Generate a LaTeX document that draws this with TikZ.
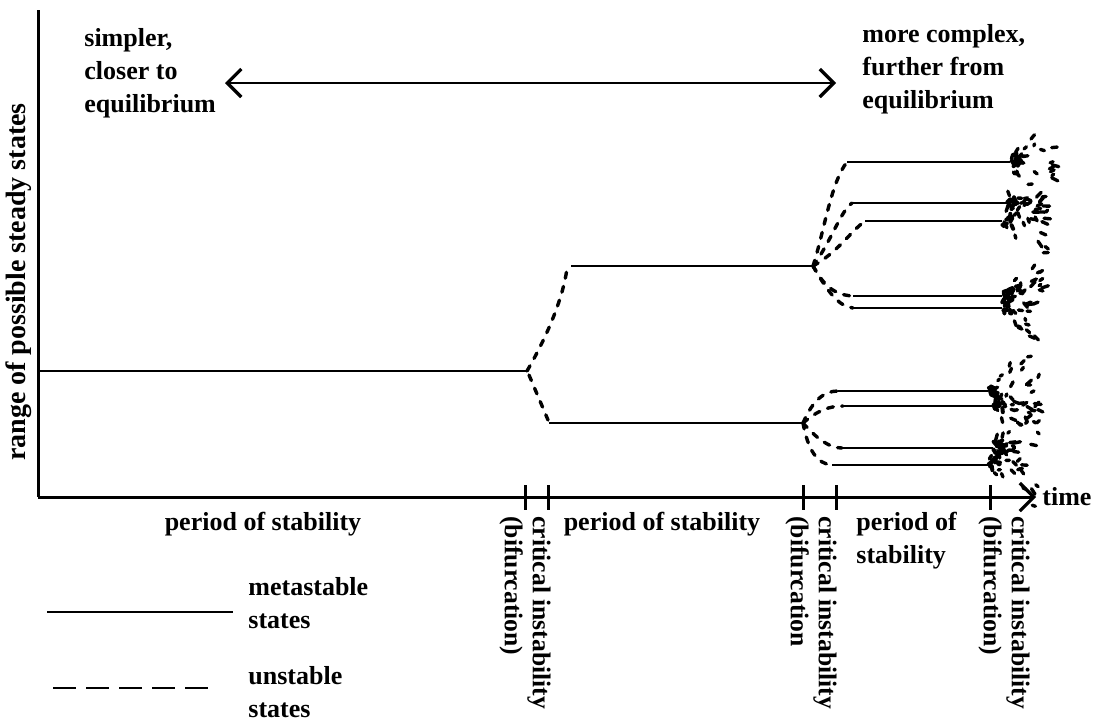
\documentclass[tikz,border=0pt]{standalone}
\usepackage{fontspec}
\setmainfont{Liberation Serif}
\usetikzlibrary{arrows.meta}
\begin{document}
\begin{tikzpicture}[x=0.5pt,y=-0.5pt,
  txt/.style={font=\fontsize{13}{16.5}\selectfont\bfseries, inner sep=0pt, align=left},
  sidetxt/.style={font=\fontsize{12.8}{14}\selectfont\bfseries, inner sep=0pt, align=left, rotate=-90, anchor=north west},
  axisline/.style={line width=1.5pt},
  tickmark/.style={line width=1.5pt},
  metastable/.style={line width=1pt},
  unstable/.style={line width=1.7pt, line cap=round, dash pattern=on 3pt off 4.2pt},
  spark/.style={line width=1.7pt, line cap=round},
  chev/.tip={Straight Barb[length=7pt, width=14pt, line width=1.6pt]}]
\useasboundingbox (0,0) rectangle (1095,724);

% ---- axes ----
\coordinate (o) at (38,497);
\coordinate (ytop) at (38,10);
\coordinate (xend) at (1036,497);
\draw[axisline] (ytop) -- (o);
\draw[axisline, -chev] (o) -- (xend);
\node[txt, anchor=base west] (time) at (1042,505) {time};
\node[txt, font=\fontsize{14}{16}\selectfont\bfseries, rotate=90] (ylab) at (19,282) {range of possible steady states};

% ---- ticks ----
\foreach \tx/\nm in {525/t1, 548/t2, 803/t3, 836/t4, 990/t5}{
  \coordinate (\nm a) at (\tx,485);
  \coordinate (\nm b) at (\tx,510);
  \draw[tickmark] (\nm a) -- (\nm b);
}

% ---- complexity arrow and its captions ----
\coordinate (al) at (225,83);
\coordinate (ar) at (836,83);
\draw[line width=0.9pt, chev-chev] (al) -- (ar);
\node[txt, anchor=north west] (simple) at (84,28) {simpler,\\closer to\\equilibrium};
\node[txt, anchor=north west] (complex) at (862,24) {more complex,\\further from\\equilibrium};

% ---- first period and bifurcation ----
\coordinate (s0) at (38,371);
\coordinate (b1) at (527,371);
\coordinate (u1s) at (571,266);
\coordinate (u1e) at (813,266);
\coordinate (l1s) at (549,423);
\coordinate (l1e) at (803,423);
\draw[metastable] (s0) -- (b1);
\draw[unstable] (b1) .. controls (545,340) and (563,300) .. (567,268);
\draw[unstable] (529,375) -- (548,420);
\draw[metastable] (u1s) -- (u1e);
\draw[metastable] (l1s) -- (l1e);

% ---- branches after the second critical instability ----
\foreach \nm/\xs/\ys/\xe in {ua/847/162/1010, ub/852/203/1007, uc/865/221/1002, ud/853/296/1002, ue/853/308/1002,
                             la/838/391/988, lb/843/406/993, lc/842/448/993, ld/832/465/988}{
  \coordinate (\nm s) at (\xs,\ys);
  \coordinate (\nm e) at (\xe,\ys);
  \draw[metastable] (\nm s) -- (\nm e);
}
\draw[unstable] (u1e) .. controls (824,232) and (831,182) .. (uas);
\draw[unstable] (u1e) .. controls (832,240) and (840,212) .. (ubs);
\draw[unstable] (u1e) .. controls (838,252) and (850,232) .. (ucs);
\draw[unstable] (u1e) .. controls (823,284) and (833,295) .. (uds);
\draw[unstable] (u1e) .. controls (828,292) and (838,306) .. (ues);

\draw[unstable] (l1e) .. controls (813,400) and (824,391) .. (las);
\draw[unstable] (l1e) .. controls (818,410) and (830,406) .. (lbs);
\draw[unstable] (l1e) .. controls (818,440) and (830,448) .. (lcs);
\draw[unstable] (l1e) .. controls (808,450) and (817,464) .. (lds);

% ---- scattering at the next critical instability ----
\pgfmathsetseed{4213}
\foreach \nm in {ua, ub, uc, ud, ue, la, lb, lc, ld}{
  \foreach \k in {1,...,20}{
    \pgfmathsetmacro\dx{1+rnd*44}
    \pgfmathsetmacro\dy{rand*(8+0.8*\dx)}
    \pgfmathsetmacro\ang{atan2(\dy,\dx)+rand*40}
    \pgfmathsetmacro\len{2+rnd*5}
    \draw[spark] (\nm e) ++(\dx,\dy) -- ++(\ang:\len);
  }
  \foreach \k in {1,...,7}{
    \pgfmathsetmacro\dx{rnd*10}
    \pgfmathsetmacro\dy{rand*7}
    \pgfmathsetmacro\ang{rand*90}
    \draw[spark, line width=2pt] (\nm e) ++(\dx,\dy) -- ++(\ang:4);
  }
}

% ---- axis captions ----
\node[txt, anchor=base] (p1) at (263,530) {period of stability};
\node[txt, anchor=base] (p2) at (662,530) {period of stability};
\node[txt, anchor=north west] (p3) at (856,512) {period of\\stability};
\node[sidetxt] (c1) at (551,516) {critical instability\\(bifurcation)};
\node[sidetxt] (c2) at (837,516) {critical instability\\(bifurcation};
\node[sidetxt] (c3) at (1030,516) {critical instability\\(bifurcation)};

% ---- legend ----
\coordinate (m1) at (47,612);
\coordinate (m2) at (233,612);
\coordinate (n1) at (53,688);
\coordinate (n2) at (212,688);
\draw[metastable] (m1) -- (m2);
\draw[line width=1.3pt, dash pattern=on 11.5pt off 5pt] (n1) -- (n2);
\node[txt, anchor=north west] (lm) at (248,577) {metastable\\states};
\node[txt, anchor=north west] (lu) at (248,666) {unstable\\states};
\end{tikzpicture}
\end{document}
